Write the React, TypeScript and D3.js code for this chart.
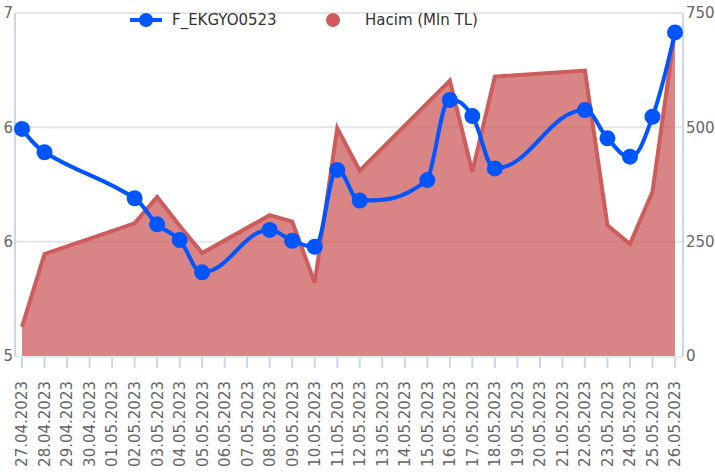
import React from "react";
import * as d3 from "d3";

const categories = [
  "27.04.2023", "28.04.2023", "29.04.2023", "30.04.2023", "01.05.2023",
  "02.05.2023", "03.05.2023", "04.05.2023", "05.05.2023", "06.05.2023",
  "07.05.2023", "08.05.2023", "09.05.2023", "10.05.2023", "11.05.2023",
  "12.05.2023", "13.05.2023", "14.05.2023", "15.05.2023", "16.05.2023",
  "17.05.2023", "18.05.2023", "19.05.2023", "20.05.2023", "21.05.2023",
  "22.05.2023", "23.05.2023", "24.05.2023", "25.05.2023", "26.05.2023",
];

const priceValues: (number | null)[] = [
  6.324, 6.188, null, null, null,
  5.92, 5.768, 5.676, 5.488, null,
  null, 5.735, 5.672, 5.637, 6.085,
  5.906, null, null, 6.026, 6.493,
  6.399, 6.094, null, null, null,
  6.434, 6.269, 6.162, 6.395, 6.887,
];

const volumeValues: (number | null)[] = [
  64, 223, null, null, null,
  290, 348, 285, 225, null,
  null, 308, 294, 160, 498,
  405, null, null, 553, 602,
  403, 611, null, null, null,
  624, 286, 245, 359, 712,
];

const leftTicks = [5, 5 + 2 / 3, 5 + 4 / 3, 7];
const rightTicks = [0, 250, 500, 750];
const seriesNames = ["F_EKGYO0523", "Hacim (Mln TL)"];

const W = 715;
const H = 472;
const plotLeft = 15;
const plotRight = 683;
const plotTop = 13;
const plotBottom = 356;

const BLUE = "#0055ff";
const RED = "#cd5c5c";
const AXIS = "#ccd6eb";
const GRID = "#e6e6e6";
const FONT = "DejaVu Sans, Verdana, sans-serif";

// Spline path in the style of a smoothing-factor 1.5 spline through the points
function splinePath(pts: [number, number][]): string {
  const smoothing = 1.5;
  const denom = smoothing + 1;
  let path = "";
  let prevRight: [number, number] | null = null;
  pts.forEach((p, i) => {
    const [px, py] = p;
    if (i === 0) {
      path += `M${px},${py}`;
      prevRight = null;
      return;
    }
    const last = pts[i - 1];
    const next = pts[i + 1];
    let leftX = px, leftY = py;
    let rightCont: [number, number] | null = null;
    if (next) {
      const [lx, ly] = last;
      const [nx, ny] = next;
      let lcx = (smoothing * px + lx) / denom;
      let lcy = (smoothing * py + ly) / denom;
      const rcx = (smoothing * px + nx) / denom;
      let rcy = (smoothing * py + ny) / denom;
      let correction = 0;
      if (rcx !== lcx) {
        correction = ((rcy - lcy) * (rcx - px)) / (rcx - lcx) + py - rcy;
      }
      lcy += correction;
      rcy += correction;
      if (lcy > ly && lcy > py) {
        lcy = Math.max(ly, py);
        rcy = 2 * py - lcy;
      } else if (lcy < ly && lcy < py) {
        lcy = Math.min(ly, py);
        rcy = 2 * py - lcy;
      }
      if (rcy > ny && rcy > py) {
        rcy = Math.max(ny, py);
        lcy = 2 * py - rcy;
      } else if (rcy < ny && rcy < py) {
        rcy = Math.min(ny, py);
        lcy = 2 * py - rcy;
      }
      leftX = lcx;
      leftY = lcy;
      rightCont = [rcx, rcy];
    }
    const c1 = prevRight || last;
    path += `C${c1[0]},${c1[1]} ${leftX},${leftY} ${px},${py}`;
    prevRight = rightCont;
  });
  return path;
}

export default function App() {
  const x = d3.scalePoint<string>().domain(categories).range([22, 675]);
  const yL = d3.scaleLinear().domain([5, 7]).range([plotBottom, plotTop]);
  const yR = d3.scaleLinear().domain([0, 750]).range([plotBottom, plotTop]);

  const pricePts = categories
    .map((c, i) => ({ c, v: priceValues[i] }))
    .filter((d) => d.v !== null) as { c: string; v: number }[];
  const volPts = categories
    .map((c, i) => ({ c, v: volumeValues[i] }))
    .filter((d) => d.v !== null) as { c: string; v: number }[];

  const priceD = splinePath(pricePts.map((d) => [x(d.c)!, yL(d.v)]));

  const volArea = d3
    .area<{ c: string; v: number }>()
    .x((d) => x(d.c)!)
    .y0(yR(0))
    .y1((d) => yR(d.v));
  const volLine = d3
    .line<{ c: string; v: number }>()
    .x((d) => x(d.c)!)
    .y((d) => yR(d.v));

  const fmt = d3.format(".0f");

  return (
    <svg
      width={W}
      height={H}
      style={{ position: "absolute", left: 0, top: 0, background: "#fff" }}
      fontFamily={FONT}
    >
      {leftTicks.slice(1).map((t, i) => (
        <line
          key={"g" + i}
          x1={plotLeft}
          x2={plotRight}
          y1={yL(t)}
          y2={yL(t)}
          stroke={GRID}
          strokeWidth={2}
        />
      ))}
      <path d={volArea(volPts)!} fill={RED} fillOpacity={0.75} />
      <path d={volLine(volPts)!} fill="none" stroke={RED} strokeWidth={4} />
      <line x1={plotLeft} x2={plotLeft} y1={plotTop} y2={plotBottom} stroke={AXIS} strokeWidth={2} />
      <line x1={plotRight} x2={plotRight} y1={plotTop} y2={plotBottom} stroke={AXIS} strokeWidth={2} />
      <line x1={plotLeft} x2={plotRight} y1={plotBottom + 1} y2={plotBottom + 1} stroke={AXIS} strokeWidth={1} />
      {categories.map((c) => (
        <g key={c}>
          <line
            x1={x(c)!}
            x2={x(c)!}
            y1={plotBottom + 1}
            y2={plotBottom + 12}
            stroke={AXIS}
            strokeWidth={2}
          />
          <text
            transform={`translate(${x(c)!},${plotBottom + 25}) rotate(-90)`}
            textAnchor="end"
            dy="0.36em"
            fontSize={15}
            fill="#666666"
          >
            {c}
          </text>
        </g>
      ))}
      {leftTicks.map((t, i) => (
        <text
          key={"l" + i}
          x={plotLeft - 2}
          y={yL(t)}
          dy="0.36em"
          textAnchor="end"
          fontSize={15}
          fill="#666666"
        >
          {fmt(t)}
        </text>
      ))}
      {rightTicks.map((t, i) => (
        <text
          key={"r" + i}
          x={plotRight + 3}
          y={yR(t)}
          dy="0.36em"
          textAnchor="start"
          fontSize={15}
          fill="#666666"
        >
          {t}
        </text>
      ))}
      <path d={priceD} fill="none" stroke={BLUE} strokeWidth={4} />
      {pricePts.map((d) => (
        <circle key={"p" + d.c} cx={x(d.c)!} cy={yL(d.v)} r={8} fill={BLUE} />
      ))}
      <g>
        <line x1={130} x2={162} y1={20} y2={20} stroke={BLUE} strokeWidth={4} />
        <circle cx={146} cy={20} r={7} fill={BLUE} />
        <text x={172} y={20} dy="0.36em" fontSize={15} fill="#333333">
          {seriesNames[0]}
        </text>
        <circle cx={333} cy={20} r={7} fill={RED} />
        <text x={365} y={20} dy="0.36em" fontSize={15} fill="#333333">
          {seriesNames[1]}
        </text>
      </g>
    </svg>
  );
}
